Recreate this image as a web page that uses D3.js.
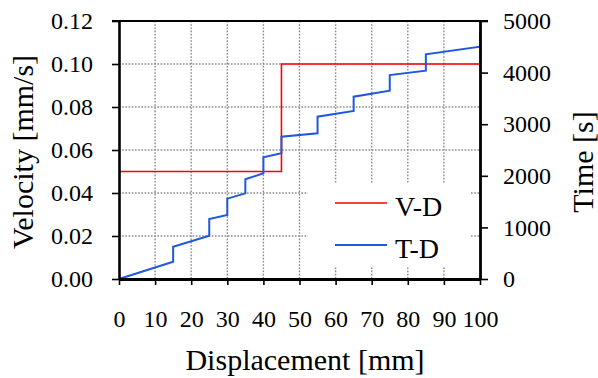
<!DOCTYPE html>
<html>
<head>
<meta charset="utf-8">
<script src="https://cdn.jsdelivr.net/npm/d3@7"></script>
</head>
<body style="margin:0">
<svg id="chart" width="598" height="378"></svg>
<script>
// ---- data ----
const vDisp = [0, 45, 45, 100];
const velocity = [0.05, 0.05, 0.10, 0.10];
const tDisp = [0, 15, 15, 25, 25, 30, 30, 35, 35, 40, 40, 45, 45, 55, 55, 65, 65, 75, 75, 85, 85, 100, 100];
const timeVals = [0, 335, 626, 839, 1163, 1240, 1557, 1660, 1932, 2048, 2358, 2436, 2758, 2823, 3145, 3256, 3533, 3650, 3953, 4037, 4354, 4502, 4781];
const xTicks = [0, 10, 20, 30, 40, 50, 60, 70, 80, 90, 100];
const yLeftTicks = [0, 0.02, 0.04, 0.06, 0.08, 0.10, 0.12];
const yRightTicks = [0, 1000, 2000, 3000, 4000, 5000];
const seriesNames = ["V-D", "T-D"];

// ---- layout ----
const FONT = "serif";
const L = 119, R = 480, T = 21, B = 279;
const svg = d3.select("#chart");
const x = d3.scaleLinear().domain([0, 100]).range([L, R]);
const yL = d3.scaleLinear().domain([0, 0.12]).range([B, T]);
const yR = d3.scaleLinear().domain([0, 5000]).range([B, T]);

// grid
const grid = svg.append("g").attr("stroke", "#8a8a8a").attr("stroke-width", 1.4).attr("stroke-dasharray", "1.6,1.6");
grid.selectAll("line.v").data(xTicks.filter(d => d > 0 && d < 100)).join("line")
  .attr("x1", d => x(d)).attr("x2", d => x(d)).attr("y1", T).attr("y2", B);
grid.selectAll("line.h").data(yLeftTicks.filter(d => d > 0 && d < 0.12)).join("line")
  .attr("x1", L).attr("x2", R).attr("y1", d => yL(d)).attr("y2", d => yL(d));

// legend background (covers grid)
svg.append("rect").attr("x", 308).attr("y", 183).attr("width", 162).attr("height", 84).attr("fill", "#fff");

// series
const lineV = d3.line().x((d, i) => x(vDisp[i])).y(d => yL(d));
const lineT = d3.line().x((d, i) => x(tDisp[i])).y(d => yR(d));
svg.append("path").datum(velocity).attr("d", lineV).attr("fill", "none").attr("stroke", "#ff0000").attr("stroke-width", 1.6);
svg.append("path").datum(timeVals).attr("d", lineT).attr("fill", "none").attr("stroke", "#1f57e0").attr("stroke-width", 2);

// axes
function styleAxis(g, w) {
  g.attr("font-family", FONT).attr("font-size", 24);
  g.select(".domain").attr("stroke", "#000").attr("stroke-width", w);
  g.selectAll(".tick line").attr("stroke", "#000").attr("stroke-width", 1.6);
  g.selectAll(".tick text").attr("font-family", FONT).attr("font-size", 24).attr("fill", "#000");
}
const gx = svg.append("g").attr("transform", `translate(0,${B})`)
  .call(d3.axisBottom(x).tickValues(xTicks).tickFormat(d3.format("d")).tickSize(6).tickSizeOuter(0).tickPadding(25));
styleAxis(gx, 3);
const gl = svg.append("g").attr("transform", `translate(${L},0)`)
  .call(d3.axisLeft(yL).tickValues(yLeftTicks).tickFormat(d3.format(".2f")).tickSize(7).tickSizeOuter(0).tickPadding(19));
styleAxis(gl, 2.6);
const gr = svg.append("g").attr("transform", `translate(${R},0)`)
  .call(d3.axisRight(yR).tickValues(yRightTicks).tickFormat(d3.format("d")).tickSize(8).tickSizeOuter(0).tickPadding(15));
styleAxis(gr, 2.8);
// top frame
svg.append("line").attr("x1", 112).attr("x2", 488).attr("y1", T).attr("y2", T).attr("stroke", "#000").attr("stroke-width", 2);

// axis titles
svg.append("text").attr("x", 305).attr("y", 370).attr("text-anchor", "middle").attr("font-family", FONT).attr("font-size", 30).text("Displacement [mm]");
svg.append("text").attr("transform", "translate(33,152) rotate(-90)").attr("text-anchor", "middle").attr("font-family", FONT).attr("font-size", 30).text("Velocity [mm/s]");
svg.append("text").attr("transform", "translate(593,162) rotate(-90)").attr("text-anchor", "middle").attr("font-family", FONT).attr("font-size", 30).text("Time [s]");

// legend
const colors = ["#ff0000", "#1f57e0"];
const legY = [203, 245];
seriesNames.forEach((name, i) => {
  svg.append("line").attr("x1", 335).attr("x2", 387).attr("y1", legY[i]).attr("y2", legY[i])
    .attr("stroke", colors[i]).attr("stroke-width", i === 0 ? 1.6 : 2);
  svg.append("text").attr("x", 395).attr("y", legY[i] + 13).attr("font-family", FONT).attr("font-size", 28).text(name);
});
</script>
</body>
</html>
